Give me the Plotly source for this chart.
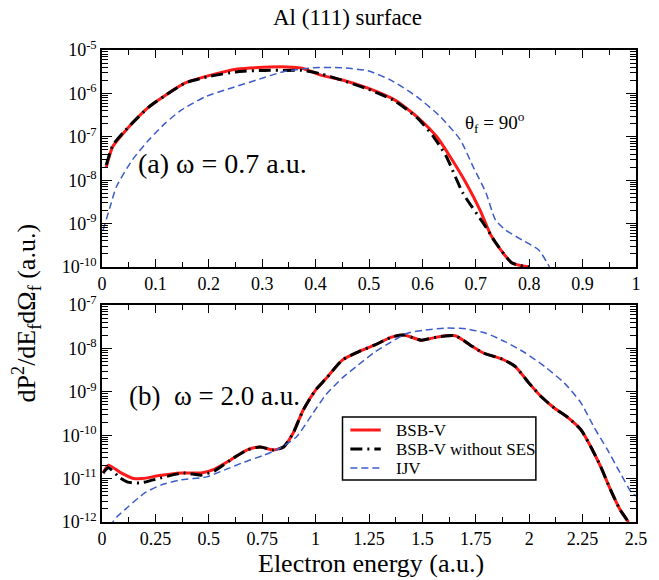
import numpy as np
import plotly.graph_objects as go

# ---------------- data (log10 of dP^2/dE dOmega) ----------------
# panel (a): omega = 0.7 a.u.
a_red_E = [0.008, 0.02, 0.04, 0.057, 0.088, 0.119, 0.156, 0.204, 0.254, 0.303, 0.345, 0.375,
           0.41, 0.45, 0.498, 0.548, 0.59, 0.627, 0.652, 0.682, 0.708, 0.728, 0.744, 0.768, 0.80]
a_red_log = [-7.70, -7.23, -6.92, -6.68, -6.31, -6.04, -5.76, -5.58, -5.44, -5.40, -5.39, -5.42,
             -5.58, -5.69, -5.88, -6.15, -6.54, -7.0, -7.46, -8.07, -8.69, -9.26, -9.56, -9.91, -10.0]

a_blk_E = [0.008, 0.02, 0.04, 0.057, 0.088, 0.119, 0.156, 0.204, 0.254, 0.303, 0.345, 0.375,
           0.41, 0.45, 0.498, 0.548, 0.59, 0.621, 0.645, 0.676, 0.719, 0.735, 0.768, 0.80]
a_blk_log = [-7.65, -7.2, -6.9, -6.68, -6.31, -6.04, -5.76, -5.6, -5.5, -5.47, -5.47, -5.47,
             -5.55, -5.7, -5.9, -6.17, -6.56, -7.0, -7.46, -8.3, -9.08, -9.4, -9.91, -10.0]

a_blu_E = [0.002, 0.015, 0.027, 0.057, 0.088, 0.119, 0.149, 0.193, 0.241, 0.29, 0.34, 0.395,
           0.45, 0.498, 0.54, 0.59, 0.634, 0.671, 0.695, 0.719, 0.737, 0.756, 0.787, 0.818, 0.838]
a_blu_log = [-9.15, -8.62, -8.15, -7.53, -7.07, -6.68, -6.38, -6.08, -5.88, -5.69, -5.5, -5.41,
             -5.41, -5.48, -5.69, -6.08, -6.54, -7.07, -7.69, -8.29, -8.92, -9.15, -9.38, -9.61, -10.0]

# panel (b): omega = 2.0 a.u.
b_red_E = [0.005, 0.03, 0.083, 0.143, 0.19, 0.267, 0.372, 0.464, 0.528, 0.602, 0.68, 0.74,
           0.804, 0.85, 0.895, 0.942, 1.0, 1.048, 1.125, 1.2, 1.278, 1.355, 1.415, 1.494,
           1.567, 1.654, 1.723, 1.783, 1.875, 1.935, 1.999, 2.058, 2.119, 2.183, 2.243,
           2.289, 2.335, 2.381, 2.426, 2.465]
b_red_log = [-10.87, -10.69, -10.85, -10.99, -11.0, -10.93, -10.87, -10.87, -10.78, -10.57,
             -10.34, -10.27, -10.34, -10.27, -9.95, -9.42, -8.96, -8.7, -8.27, -8.08, -7.92,
             -7.74, -7.69, -7.81, -7.74, -7.71, -7.92, -8.1, -8.25, -8.42, -8.8, -9.12, -9.38,
             -9.6, -9.88, -10.27, -10.73, -11.26, -11.72, -12.0]

b_blk_E = [0.005, 0.03, 0.083, 0.12, 0.18, 0.24, 0.38, 0.464, 0.528, 0.602, 0.68, 0.74,
           0.804, 0.85, 0.895, 0.942, 1.0, 1.048, 1.125, 1.2, 1.278, 1.355, 1.415, 1.494,
           1.567, 1.654, 1.723, 1.783, 1.875, 1.935, 1.999, 2.058, 2.119, 2.183, 2.243,
           2.289, 2.335, 2.381, 2.426, 2.465]
b_blk_log = [-10.87, -10.75, -10.98, -11.08, -11.1, -11.03, -10.87, -10.92, -10.82, -10.57,
             -10.34, -10.27, -10.34, -10.27, -9.95, -9.42, -8.96, -8.7, -8.27, -8.08, -7.92,
             -7.74, -7.69, -7.81, -7.74, -7.71, -7.92, -8.1, -8.25, -8.42, -8.8, -9.12, -9.38,
             -9.6, -9.88, -10.27, -10.73, -11.26, -11.72, -12.0]

b_blu_E = [0.035, 0.07, 0.12, 0.2, 0.275, 0.37, 0.49, 0.574, 0.666, 0.758, 0.832, 0.91,
           0.988, 1.048, 1.125, 1.2, 1.278, 1.355, 1.43, 1.507, 1.613, 1.705, 1.797, 1.889,
           1.98, 2.073, 2.165, 2.243, 2.303, 2.367, 2.426, 2.48, 2.5]
b_blu_log = [-12.1, -11.88, -11.66, -11.33, -11.15, -11.03, -10.96, -10.8, -10.62, -10.46,
             -10.3, -10.04, -9.49, -9.07, -8.68, -8.38, -8.08, -7.85, -7.65, -7.58, -7.53,
             -7.55, -7.65, -7.85, -8.1, -8.42, -8.8, -9.26, -9.81, -10.34, -10.87, -11.33, -11.4]

series_names = ["BSB-V", "BSB-V without SES", "IJV"]
a_xticks = [0, 0.1, 0.2, 0.3, 0.4, 0.5, 0.6, 0.7, 0.8, 0.9, 1]
b_xticks = [0, 0.25, 0.5, 0.75, 1, 1.25, 1.5, 1.75, 2, 2.25, 2.5]
a_ydecades = [-10, -9, -8, -7, -6, -5]
b_ydecades = [-12, -11, -10, -9, -8, -7]

# ---------------- figure ----------------
W, H = 659, 580
L, R, T, B = 102, 646, 50, 522
FONT = "Liberation Serif, Times New Roman, DejaVu Serif, serif"

RED = "#ff1a1a"
BLK = "#000000"
BLU = "#3d5bc9"

styles = [dict(color=RED, width=3), dict(color=BLK, width=3, dash="12px,5px,2px,5px"),
          dict(color=BLU, width=1.5, dash="7px,4px")]

fig = go.Figure()

def add_panel(data, xa, ya):
    for (E, lg), name, st in zip(data, series_names, styles):
        fig.add_trace(go.Scatter(x=E, y=10 ** np.array(lg), mode="lines", name=name,
                                 line=dict(shape="spline", smoothing=0.6, **st),
                                 xaxis=xa, yaxis=ya, showlegend=False))

add_panel([(a_red_E, a_red_log), (a_blk_E, a_blk_log), (a_blu_E, a_blu_log)], "x", "y")
add_panel([(b_red_E, b_red_log), (b_blk_E, b_blk_log), (b_blu_E, b_blu_log)], "x2", "y2")

def py2paper(py):
    return (B - py) / (B - T)

def px2paper(px):
    return (px - L) / (R - L)

def log_minor(decades):
    return [k * 10.0 ** d for d in decades[:-1] for k in range(2, 10)]

axis_common = dict(showline=True, linecolor="black", linewidth=1.5, mirror="ticks",
                   ticks="inside", tickcolor="black", showgrid=False, zeroline=False,
                   tickfont=dict(family=FONT, size=18, color="black"))

fig.update_layout(
    width=W, height=H, margin=dict(l=L, r=W - R, t=T, b=H - B),
    paper_bgcolor="white", plot_bgcolor="white",
    font=dict(family=FONT, color="black"),
    xaxis=dict(domain=[0, 1], anchor="y", range=[0, 1], tickvals=a_xticks,
               ticklen=8, tickwidth=1.2,
               minor=dict(dtick=0.05, tick0=0, ticks="inside", ticklen=5, tickwidth=1, tickcolor="black"),
               **axis_common),
    yaxis=dict(domain=[py2paper(267), 1], anchor="x", type="log", range=[-10, -5],
               tickvals=[10.0 ** d for d in a_ydecades],
               ticktext=["10<sup>%d</sup>" % d for d in a_ydecades],
               ticklen=10, tickwidth=1.2,
               minor=dict(tickmode="array", tickvals=log_minor(a_ydecades), ticks="inside",
                          ticklen=6, tickwidth=1, tickcolor="black"),
               **axis_common),
    xaxis2=dict(domain=[0, 1], anchor="y2", range=[0, 2.5], tickvals=b_xticks,
                ticktext=[("%g" % v) for v in b_xticks],
                ticklen=8, tickwidth=1.2,
                minor=dict(dtick=0.125, tick0=0, ticks="inside", ticklen=5, tickwidth=1, tickcolor="black"),
                **axis_common),
    yaxis2=dict(domain=[0, py2paper(305)], anchor="x2", type="log", range=[-12, -7],
                tickvals=[10.0 ** d for d in b_ydecades],
                ticktext=["10<sup>%d</sup>" % d for d in b_ydecades],
                ticklen=10, tickwidth=1.2,
                minor=dict(tickmode="array", tickvals=log_minor(b_ydecades), ticks="inside",
                           ticklen=6, tickwidth=1, tickcolor="black"),
                **axis_common),
    showlegend=False,
)

def note(text, px, py, size, xanchor="left", angle=0):
    fig.add_annotation(text=text, x=px2paper(px), y=py2paper(py), xref="paper", yref="paper",
                       showarrow=False, xanchor=xanchor, yanchor="middle", textangle=angle,
                       font=dict(family=FONT, size=size, color="black"))

# legend box (drawn in the bottom panel)
fig.add_shape(type="rect", xref="paper", yref="paper",
              x0=px2paper(347), x1=px2paper(544), y0=py2paper(480), y1=py2paper(417),
              line=dict(color="black", width=1.5), fillcolor="white", layer="above")
for i, (name, st) in enumerate(zip(series_names, styles)):
    yy = py2paper(430 + 19 * i)
    fig.add_shape(type="line", xref="paper", yref="paper", x0=px2paper(355), x1=px2paper(386),
                  y0=yy, y1=yy, line=st, layer="above")
    note(name, 399, 430 + 19 * i, 17)

note("Al (111) surface", 352, 18, 23, xanchor="center")
note("(a) ω = 0.7 a.u.", 137, 163, 28)
note("θ<sub>f</sub> = 90<sup>o</sup>", 470, 122, 19)
note("(b)  ω = 2.0 a.u.", 127, 396, 27)
note("Electron energy (a.u.)", 376, 563, 26, xanchor="center")
note("dP<sup>2</sup>/dE<sub>f</sub>dΩ<sub>f</sub> (a.u.)", 25, 313, 26, xanchor="center", angle=-90)

fig.write_html("out.html")
